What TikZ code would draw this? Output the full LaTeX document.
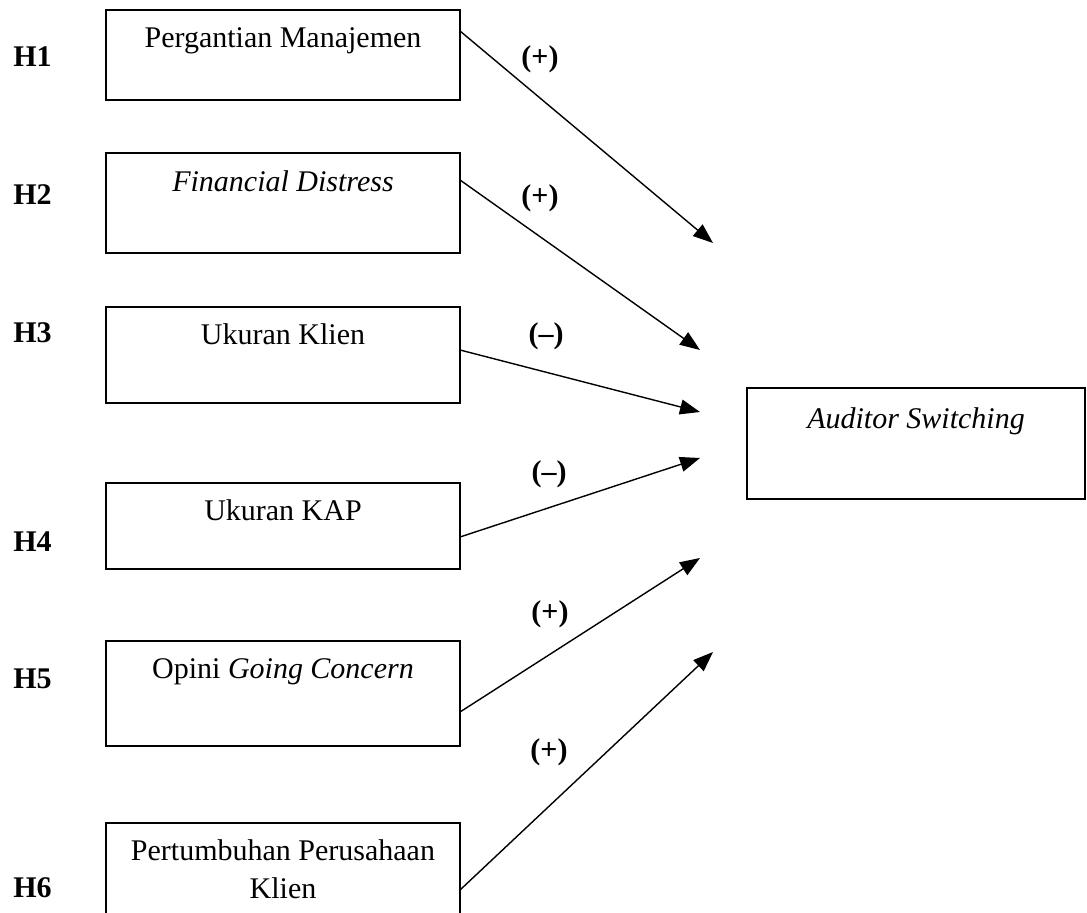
\documentclass[tikz,border=0pt]{standalone}
\usepackage{fontspec}
\setmainfont{Liberation Serif}
\usetikzlibrary{arrows.meta}
\begin{document}
\begin{tikzpicture}[x=0.5pt,y=-0.5pt,
  font=\fontsize{15}{18}\selectfont,
  box/.style={draw,line width=0.8pt,minimum width=177pt,inner sep=0pt,outer sep=0pt},
  txt/.style={anchor=base,inner sep=0pt},
  hyp/.style={anchor=base west,inner sep=0pt,font=\fontsize{15}{18}\selectfont\bfseries},
  sign/.style={inner sep=0pt,font=\fontsize{15}{18}\selectfont\bfseries},
  arr/.style={line width=0.7pt,-{Triangle[length=10pt,width=7.5pt]}}]
\clip (0,0) rectangle (1087,913);
\fill[white] (0,0) rectangle (1087,913);

% left boxes
\node[box,minimum height=45pt] (b1) at (283,55) {};
\node[box,minimum height=50pt] (b2) at (283,203) {};
\node[box,minimum height=48pt] (b3) at (283,355) {};
\node[box,minimum height=43pt] (b4) at (283,526) {};
\node[box,minimum height=52.5pt] (b5) at (283,693.5) {};
\node[box,minimum height=56pt] (b6) at (283,879) {};
% right box
\node[box,minimum width=169pt,minimum height=55.5pt] (bR) at (916,443.5) {};

% box texts
\node[txt] (t1) at (283,48) {Pergantian Manajemen};
\node[txt] (t2) at (283,192) {\itshape Financial Distress};
\node[txt] (t3) at (283,345) {Ukuran Klien};
\node[txt] (t4) at (283,521) {Ukuran KAP};
\node[txt] (t5) at (283,679) {Opini \textit{Going Concern}};
\node[txt] (t6a) at (283,860) {Pertumbuhan Perusahaan};
\node[txt] (t6b) at (283,899) {Klien};
\node[txt] (tR) at (916,429) {\itshape Auditor Switching};

% hypothesis labels
\node[hyp] (h1) at (13,67) {H1};
\node[hyp] (h2) at (13,205) {H2};
\node[hyp] (h3) at (13,343) {H3};
\node[hyp] (h4) at (13,552) {H4};
\node[hyp] (h5) at (13,689) {H5};
\node[hyp] (h6) at (13,897) {H6};

% arrow end points
\coordinate (e1) at (713,243);
\coordinate (e2) at (700,350);
\coordinate (e3) at (700,412);
\coordinate (e4) at (700,458);
\coordinate (e5) at (700,558);
\coordinate (e6) at (713,652);

\draw[arr] (b1.north east) ++(0,21) -- (e1);
\draw[arr] (b2.north east) ++(0,27) -- (e2);
\draw[arr] (b3.north east) ++(0,43) -- (e3);
\draw[arr] (b4.north east) ++(0,54) -- (e4);
\draw[arr] (b5.north east) ++(0,71) -- (e5);
\draw[arr] (b6.north east) ++(0,67) -- (e6);

% signs
\node[sign] (s1) at (540,59) {(+)};
\node[sign] (s2) at (540,198) {(+)};
\node[sign] (s3) at (546,336) {(--)};
\node[sign] (s4) at (549,474) {(--)};
\node[sign] (s5) at (550,614) {(+)};
\node[sign] (s6) at (549,752) {(+)};
\end{tikzpicture}
\end{document}
